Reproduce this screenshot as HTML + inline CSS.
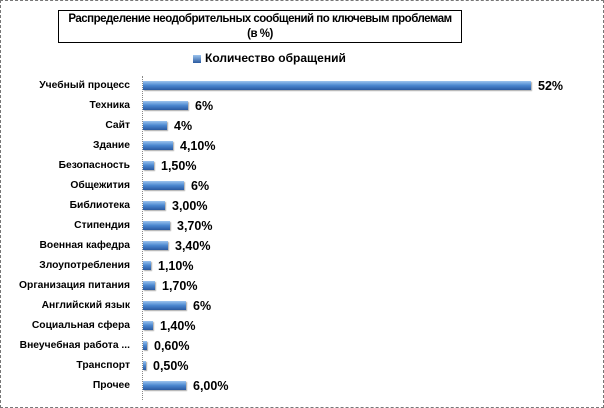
<!DOCTYPE html>
<html><head><meta charset="utf-8"><style>
body{margin:0;background:#fff}
#c{position:relative;width:602px;height:406px;border:1px dashed #777;overflow:hidden;font-family:"Liberation Sans","DejaVu Sans",sans-serif;font-weight:bold;color:#000}
.t{position:absolute;left:57px;top:9px;width:404px;height:33px;border:1px solid #000;text-align:center;font-size:11.5px;line-height:15px;padding-top:1px;box-sizing:border-box;white-space:nowrap;letter-spacing:-0.5px}
.lab{position:absolute;right:473px;font-size:10.3px;white-space:nowrap;text-align:right}
.bar{position:absolute;left:142px;height:9px;background:linear-gradient(#9cc4ee,#4a86cf 50%,#2a5aa0);box-shadow:1px 1px 1px #aaa}
.v{position:absolute;font-size:12.5px;white-space:nowrap}
.ax{position:absolute;left:141px;top:75px;height:324px;border-left:1px dotted #888}
</style></head><body><div id="c">
<div class="t">Распределение неодобрительных сообщений по ключевым проблемам<br>(в %)</div>
<div style="position:absolute;left:192px;top:54px;width:8px;height:8px;background:linear-gradient(#9cc4ee,#2a5aa0)"></div>
<div style="position:absolute;left:204px;top:50px;font-size:12px">Количество обращений</div>
<div class="ax"></div>
<div id="rows"></div>
</div>
<script>
var d=[["Учебный процесс",530,"52%"],["Техника",187,"6%"],["Сайт",166,"4%"],["Здание",172,"4,10%"],["Безопасность",153,"1,50%"],["Общежития",183,"6%"],["Библиотека",164,"3,00%"],["Стипендия",169,"3,70%"],["Военная кафедра",167,"3,40%"],["Злоупотребления",150,"1,10%"],["Организация питания",154,"1,70%"],["Английский язык",185,"6%"],["Социальная сфера",152,"1,40%"],["Внеучебная работа ...",146,"0,60%"],["Транспорт",145,"0,50%"],["Прочее",185,"6,00%"]];
var h="";d.forEach(function(r,i){var y=85+20*i;
h+='<div class="lab" style="top:'+(y-6)+'px">'+r[0]+'</div>';
h+='<div class="bar" style="top:'+(y-5)+'px;width:'+(r[1]-142)+'px"></div>';
h+='<div class="v" style="left:'+(r[1]+7)+'px;top:'+(y-7)+'px">'+r[2]+'</div>';});
document.getElementById("rows").innerHTML=h;
</script>
</body></html>
